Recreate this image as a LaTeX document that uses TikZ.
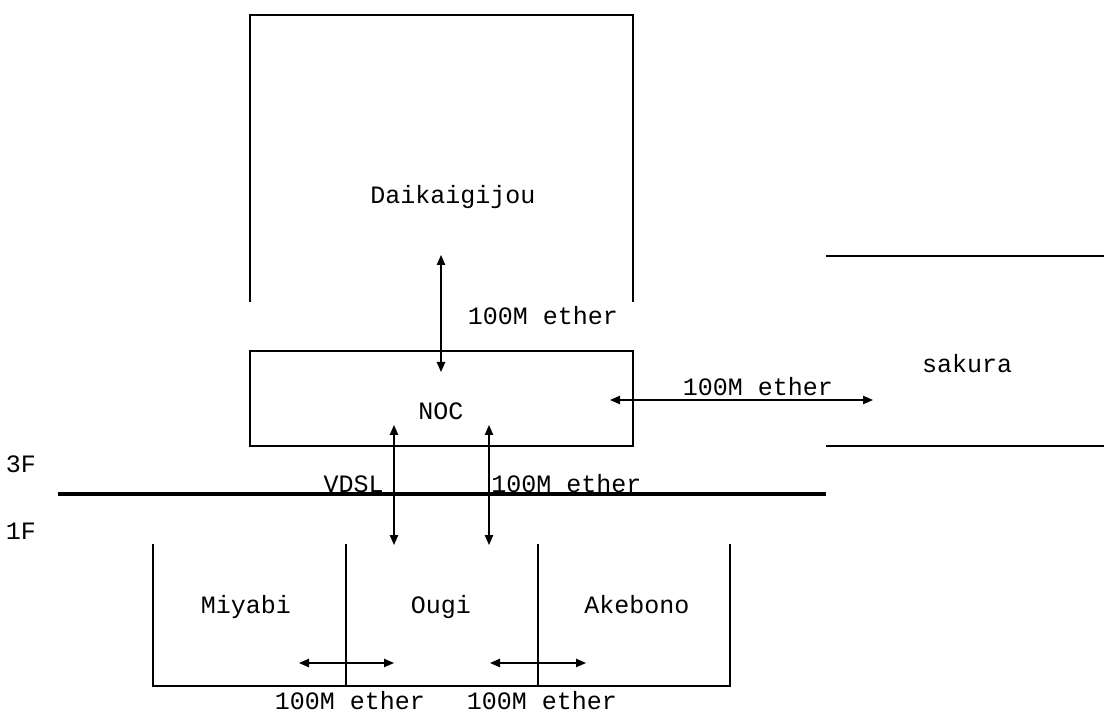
\documentclass[tikz,border=0pt]{standalone}
\usepackage{fontspec}
\setmainfont{Liberation Mono}
\usetikzlibrary{arrows.meta}
\tikzset{
  wall/.style={line width=0.6pt, draw=black},
  floorline/.style={line width=2pt, draw=black},
  lab/.style={inner sep=0pt, anchor=base, font=\fontsize{12.5}{15}\selectfont},
  link/.style={{Triangle[length=5pt,width=4.2pt]}-{Triangle[length=5pt,width=4.2pt]}, line width=0.6pt}
}

\begin{document}
\begin{tikzpicture}[x=0.5pt, y=-0.5pt]
  \useasboundingbox (0,0) rectangle (1104,711);
  % rooms
  \draw[wall] (250,302) -- (250,15) -- (633,15) -- (633,302);
  \draw[wall] (250,351) rectangle (633,446);
  \draw[wall] (826,256) -- (1104,256);
  \draw[wall] (826,446) -- (1104,446);
  \draw[wall] (153,544) -- (153,686) -- (730,686) -- (730,544);
  \draw[wall] (346,544) -- (346,686);
  \draw[wall] (538,544) -- (538,686);
  % floor
  \draw[floorline] (58,494) -- (826,494);
  \node[lab] (f3) at (21,473) {3F};
  \node[lab] (f1) at (21,539) {1F};
  % room names
  \node[lab] (dai) at (453,204) {Daikaigijou};
  \node[lab] (noc) at (441,420) {NOC};
  \node[lab] (sakura) at (967,373) {sakura};
  \node[lab] (miyabi) at (246,613) {Miyabi};
  \node[lab] (ougi) at (441,613) {Ougi};
  \node[lab] (akebono) at (637,613) {Akebono};
  % link ends
  \coordinate (daiend) at (441,255);
  \coordinate (nocup) at (441,372);
  \coordinate (nocright) at (610,400);
  \coordinate (sakuraend) at (873,400);
  \coordinate (vdsltop) at (394,425);
  \coordinate (vdslbot) at (394,545);
  \coordinate (ethtop) at (489,425);
  \coordinate (ethbot) at (489,545);
  \coordinate (miyabiend) at (299,663);
  \coordinate (ougileft) at (394,663);
  \coordinate (ougiright) at (490,663);
  \coordinate (akebonoend) at (586,663);
  % links
  \draw[link] (daiend) -- (nocup);
  \node[lab] (ethdai) at (543,325) {100M ether};
  \draw[link] (nocright) -- (sakuraend);
  \node[lab] (ethsakura) at (758,396) {100M ether};
  \draw[link] (vdsltop) -- (vdslbot);
  \node[lab, anchor=base east] (vdsl) at (384,492) {VDSL};
  \draw[link] (ethtop) -- (ethbot);
  \node[lab, anchor=base west] (ethougi) at (491,492) {100M ether};
  \draw[link] (miyabiend) -- (ougileft);
  \node[lab] (ethmiyabi) at (350,709) {100M ether};
  \draw[link] (ougiright) -- (akebonoend);
  \node[lab] (ethakebono) at (542,709) {100M ether};
\end{tikzpicture}
\end{document}
